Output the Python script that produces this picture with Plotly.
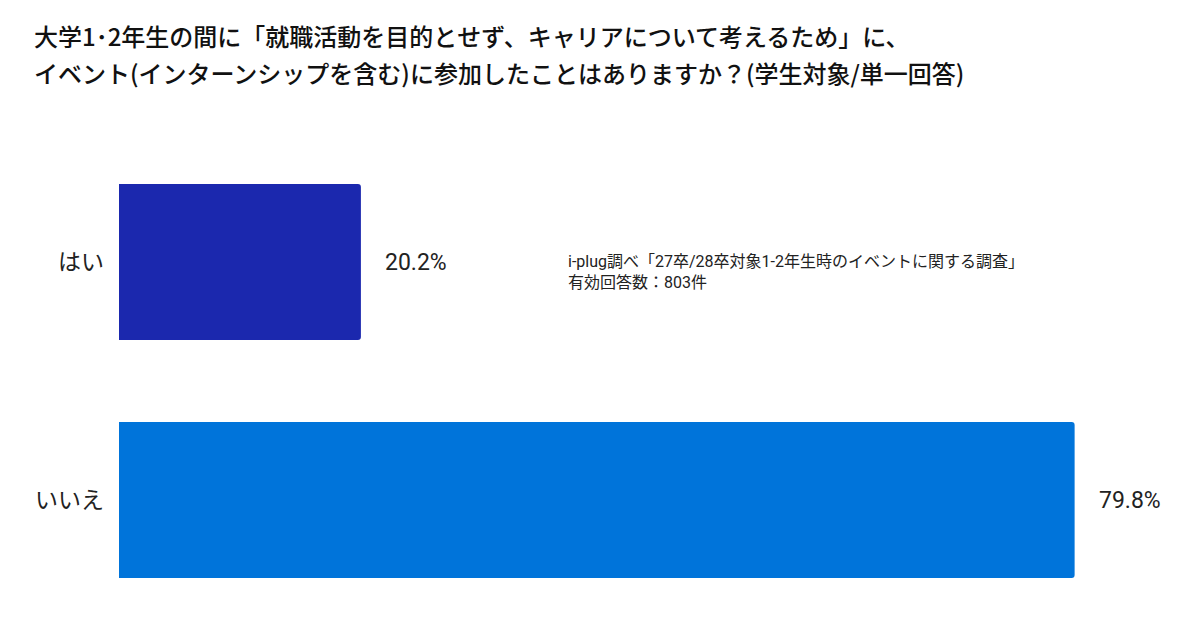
import plotly.graph_objects as go

categories = ["はい", "いいえ"]
values = [20.2, 79.8]
value_labels = ["20.2%", "79.8%"]
colors = ["#1B28AE", "#0074DA"]

title_line1 = "大学1･2年生の間に「就職活動を目的とせず、キャリアについて考えるため」に、"
title_line2 = "イベント(インターンシップを含む)に参加したことはありますか？(学生対象/単一回答)"
note_text = "i-plug調べ「27卒/28卒対象1-2年生時のイベントに関する調査」<br>有効回答数：803件"

FONT = "Noto Sans CJK JP"
LFONT = "Roboto, Noto Sans CJK JP"
W, H = 1200, 636
ML, MR, MT, MB = 119, 20, 143, 17
PW, PH = W - ML - MR, H - MT - MB

fig = go.Figure()
fig.add_trace(go.Bar(
    y=categories, x=values, orientation="h",
    marker=dict(color=colors, line=dict(width=0), cornerradius=3),
    hoverinfo="skip",
))

for c, v, t in zip(categories, values, value_labels):
    fig.add_annotation(x=v, y=c, text=t, showarrow=False, xanchor="left",
                       xshift=22, font=dict(family=LFONT, size=23, color="#222222"))

fig.add_annotation(x=(566 - ML) / PW, y=(H - 250 - MB) / PH, xref="paper", yref="paper",
                   text=note_text, showarrow=False, xanchor="left", yanchor="top",
                   align="left", font=dict(family=LFONT, size=16, color="#222222"))

# second title line
fig.add_annotation(x=(34 - ML) / PW, y=(H - 72 - MB) / PH, xref="paper", yref="paper",
                   text=title_line2, showarrow=False, xanchor="left", yanchor="middle",
                   xshift=-1, borderpad=0,
                   font=dict(family=FONT, size=24, color="#111111", weight=500))

fig.update_layout(
    width=W, height=H,
    paper_bgcolor="white", plot_bgcolor="white",
    margin=dict(l=ML, r=MR, t=MT, b=MB),
    bargap=0.345,
    showlegend=False,
    title=dict(text=title_line1, x=34 / W, xanchor="left", xref="container",
               y=1 - 38 / H, yanchor="middle", yref="container",
               font=dict(family=FONT, size=24, color="#111111", weight=500)),
    xaxis=dict(range=[0, 88.6], visible=False, fixedrange=True),
    yaxis=dict(categoryorder="array", categoryarray=categories, autorange="reversed",
               showgrid=False, showline=False, zeroline=False, ticks="",
               ticklabelstandoff=14,
               tickfont=dict(family=FONT, size=23, color="#222222")),
)

fig.write_html("out.html", config={"displayModeBar": False},
               post_script="document.body.style.margin='0px';")
